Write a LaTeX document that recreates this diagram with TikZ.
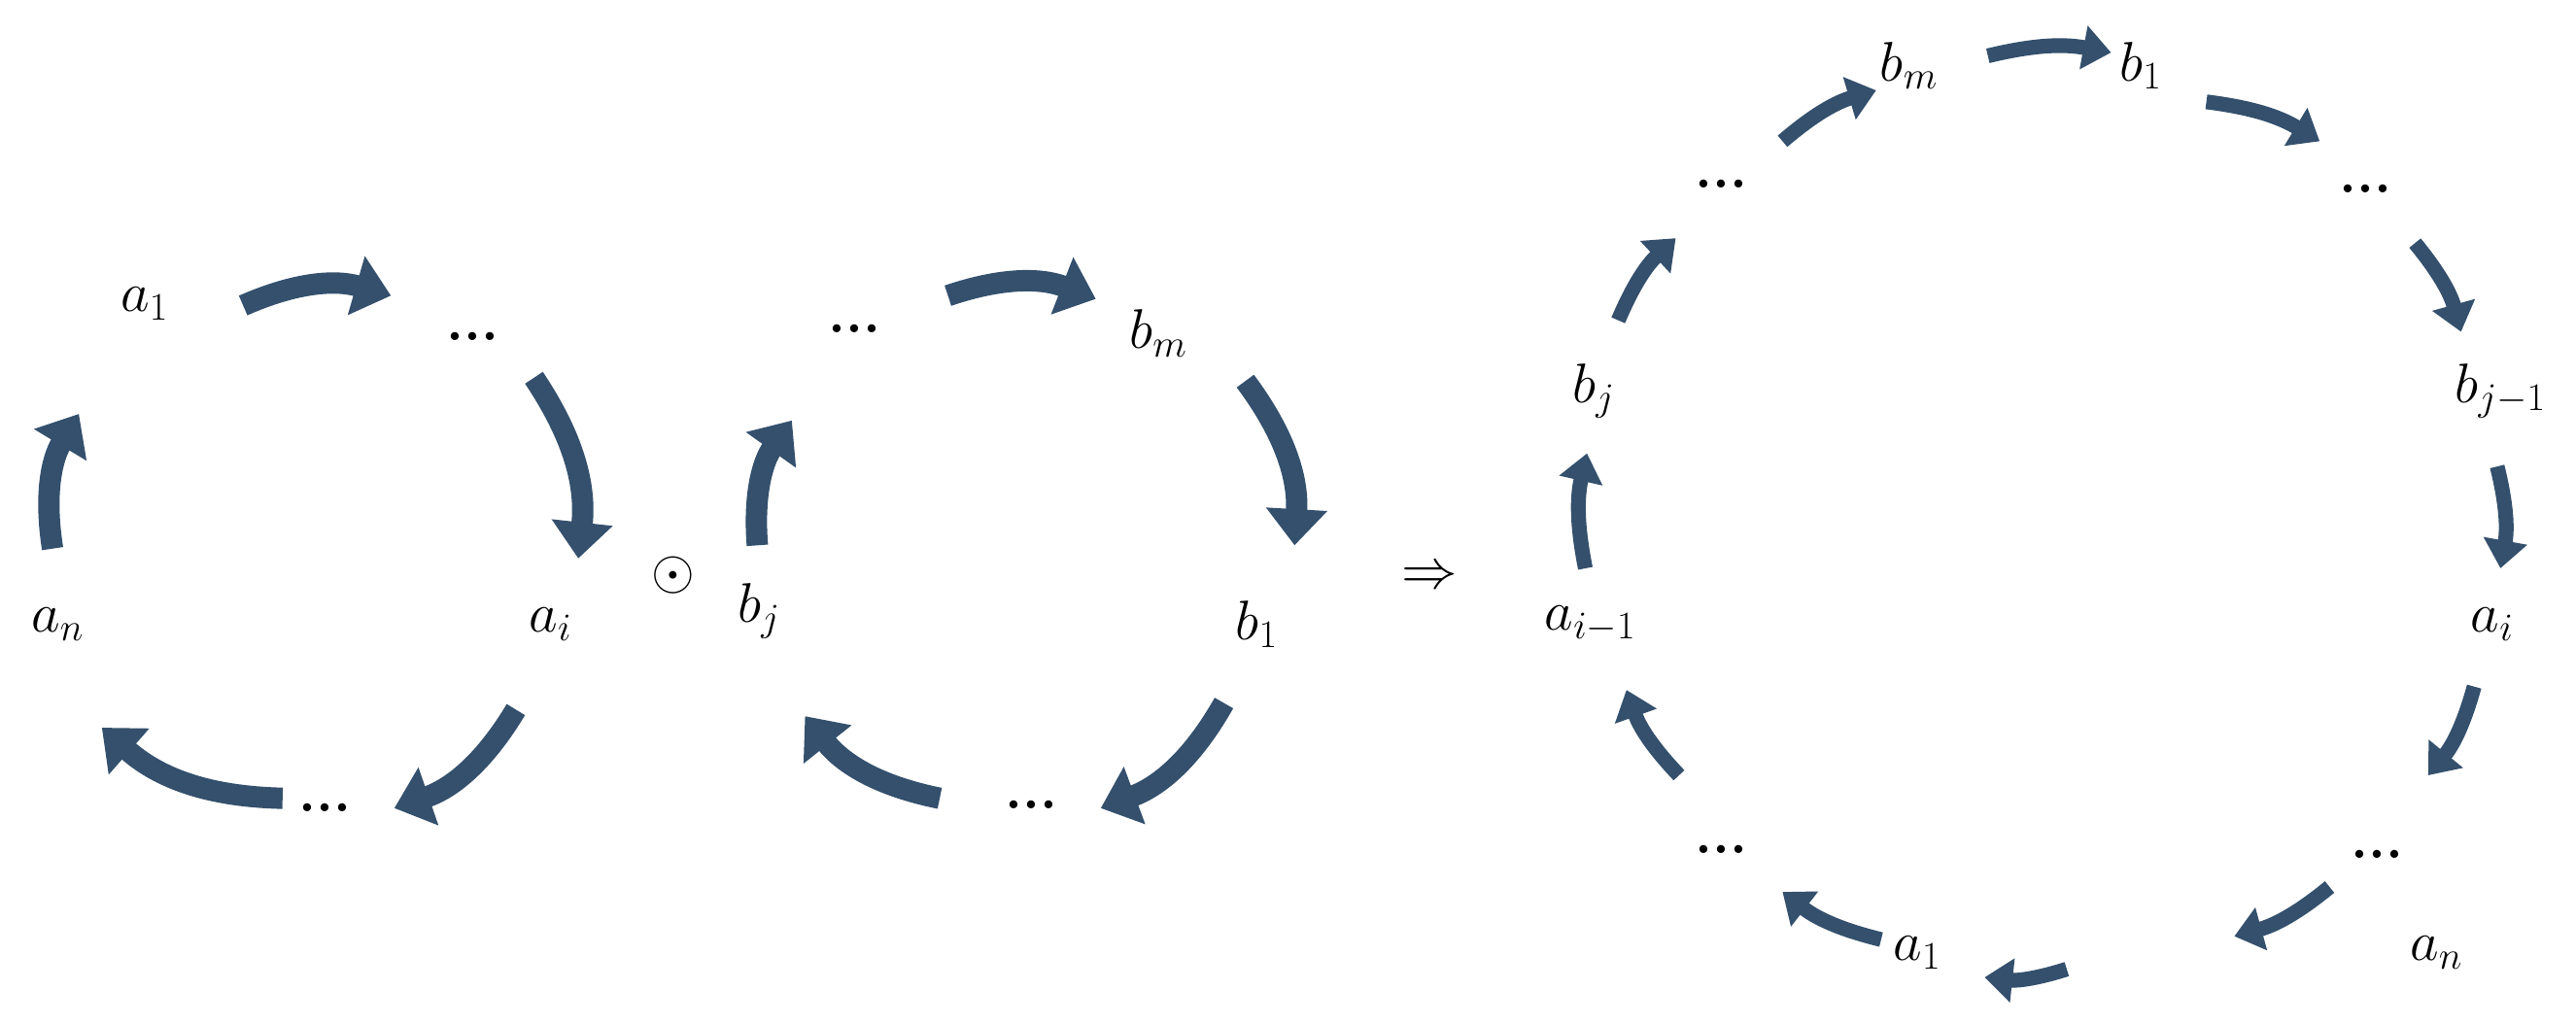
\RequirePackage{fix-cm}
\documentclass[tikz,border=0pt]{standalone}
\usetikzlibrary{arrows.meta}
\definecolor{arr}{HTML}{34506D}
\begin{document}
\begin{tikzpicture}[x=1pt,y=-1pt,
  lab/.style={font=\fontsize{34}{40}\selectfont},
  blk/.style={draw=arr,line width=13pt,-{Triangle[length=22pt,width=36pt]},bend left=20},
  thin/.style={draw=arr,line width=9pt,-{Triangle[length=17pt,width=26pt]},bend left=12}]
\useasboundingbox (0,0) rectangle (1568,623);
\newcommand{\dd}{\textbf{...}}
% left cycle
\node[lab] (a1) at (88,185) {$a_1$};
\node[lab] (l1) at (288,205) {\dd};
\node[lab] (ai) at (335,380) {$a_i$};
\node[lab] (l2) at (198,492) {\dd};
\node[lab] (an) at (35,380) {$a_n$};
\draw[blk] (148,186) to (238,180);
\draw[blk] (325,230) to (352,340);
\draw[blk] (314,432) to (240,492);
\draw[blk] (172,486) to (62,443);
\draw[blk] (32,334) to (48,252);
\node[lab] (odot) at (410,350) {$\odot$};
% middle cycle
\node[lab] (m1) at (520,200) {\dd};
\node[lab] (bm) at (705,203) {$b_m$};
\node[lab] (b1) at (765,380) {$b_1$};
\node[lab] (m2) at (628,490) {\dd};
\node[lab] (bj) at (462,372) {$b_j$};
\draw[blk] (577,180) to (667,182);
\draw[blk] (758,232) to (788,332);
\draw[blk] (745,428) to (670,492);
\draw[blk] (572,486) to (490,436);
\draw[blk] (461,332) to (482,256);
\node[lab] (imp) at (870,352) {$\Rightarrow$};
% right cycle
\node[lab] (rbm) at (1162,40) {$b_m$};
\node[lab] (rb1) at (1303,40) {$b_1$};
\node[lab] (r1) at (1440,115) {\dd};
\node[lab] (rbj1) at (1522,238) {$b_{j-1}$};
\node[lab] (rai) at (1517,380) {$a_i$};
\node[lab] (r2) at (1447,520) {\dd};
\node[lab] (ran) at (1483,580) {$a_n$};
\node[lab] (ra1) at (1167,580) {$a_1$};
\node[lab] (r3) at (1048,517) {\dd};
\node[lab] (rai1) at (968,380) {$a_{i-1}$};
\node[lab] (rbj) at (970,238) {$b_j$};
\node[lab] (r4) at (1048,112) {\dd};
\draw[thin] (1210,34) to (1285,32);
\draw[thin] (1343,62) to (1412,86);
\draw[thin] (1470,148) to (1498,202);
\draw[thin] (1520,284) to (1522,346);
\draw[thin] (1506,418) to (1478,472);
\draw[thin] (1418,540) to (1360,570);
\draw[thin] (1258,590) to (1208,595);
\draw[thin] (1145,572) to (1085,543);
\draw[thin] (1022,472) to (990,420);
\draw[thin] (965,346) to (966,276);
\draw[thin] (985,195) to (1020,145);
\draw[thin] (1085,86) to (1142,55);
\end{tikzpicture}
\end{document}
